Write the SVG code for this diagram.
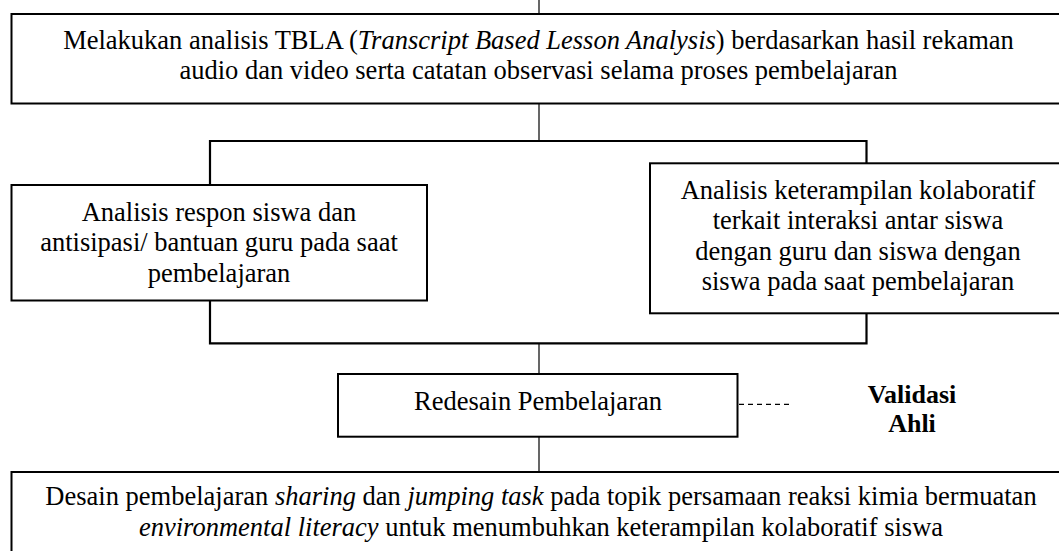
<svg xmlns="http://www.w3.org/2000/svg" width="1059" height="551" viewBox="0 0 1059 551" font-family="Liberation Serif, Times New Roman, Times, DejaVu Serif, serif">
<style>
.box{fill:#fff;stroke:#000;stroke-width:2}
.ln{fill:none;stroke:#000;stroke-width:1.2}
.br{fill:none;stroke:#000;stroke-width:2.2}
.dash{fill:none;stroke:#000;stroke-width:1.2;stroke-dasharray:5 4}
.t{font-family:'Liberation Serif','Times New Roman',Times,'DejaVu Serif',serif;font-size:26.5px;fill:#000;text-anchor:middle}
.b{font-weight:bold;font-size:26px}
.i{font-style:italic}
</style>
<rect width="1059" height="551" fill="#fff"/>
<g id="connectors">
<line class="ln" x1="539" y1="0" x2="539" y2="14"/>
<line class="ln" x1="539" y1="104" x2="539" y2="141"/>
<path class="br" d="M210 185 V141 H866.5 V163"/>
<path class="br" d="M210 300 V343.3 H866.5 V313"/>
<line class="ln" x1="539" y1="343.3" x2="539" y2="374"/>
<line class="ln" x1="539" y1="437" x2="539" y2="472"/>
<line class="dash" x1="739" y1="404.3" x2="791" y2="404.3"/>
</g>
<g id="node-tbla">
<rect class="box" x="11.5" y="14" width="1060" height="89.5"/>
<text class="t" x="538.5" y="48.8">Melakukan analisis TBLA (<tspan class="i">Transcript Based Lesson Analysis</tspan>) berdasarkan hasil rekaman</text>
<text class="t" x="538.5" y="79.2">audio dan video serta catatan observasi selama proses pembelajaran</text>
</g>
<g id="node-respon">
<rect class="box" x="11.5" y="185" width="415.5" height="115.5"/>
<text class="t" x="219" y="220.5">Analisis respon siswa dan</text>
<text class="t" x="219" y="251.3">antisipasi/ bantuan guru pada saat</text>
<text class="t" x="219" y="282">pembelajaran</text>
</g>
<g id="node-kolaboratif">
<rect class="box" x="650" y="163.3" width="420" height="150"/>
<text class="t" x="858" y="198.5">Analisis keterampilan kolaboratif</text>
<text class="t" x="858" y="229">terkait interaksi antar siswa</text>
<text class="t" x="858" y="259.5">dengan guru dan siswa dengan</text>
<text class="t" x="858" y="290">siswa pada saat pembelajaran</text>
</g>
<g id="node-redesain">
<rect class="box" x="338" y="374" width="399.5" height="62.7"/>
<text class="t" x="538" y="410">Redesain Pembelajaran</text>
</g>
<g id="node-validasi">
<text class="t b" x="912" y="402.7">Validasi</text>
<text class="t b" x="912" y="431.7">Ahli</text>
</g>
<g id="node-desain">
<rect class="box" x="11.5" y="472" width="1065" height="100"/>
<text class="t" x="541" y="505.3">Desain pembelajaran <tspan class="i">sharing</tspan> dan <tspan class="i">jumping task</tspan> pada topik persamaan reaksi kimia bermuatan</text>
<text class="t" x="541" y="535.5"><tspan class="i">environmental literacy</tspan> untuk menumbuhkan keterampilan kolaboratif siswa</text>
</g>
</svg>
